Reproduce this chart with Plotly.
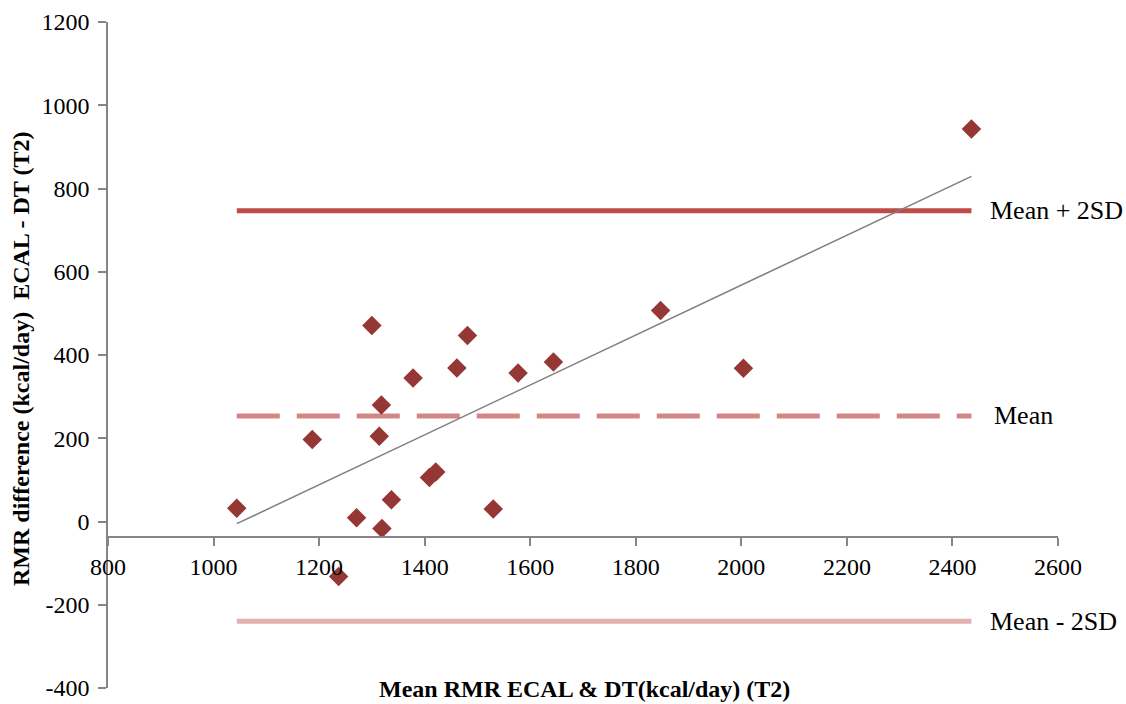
import numpy as np
import plotly.graph_objects as go

# Mean of the two methods (kcal/day) and their difference ECAL - DT (kcal/day), visit T2
mean_rmr = [1044, 1187, 1300, 1318, 1314, 1378, 1461, 1481, 1577, 1644,
            1271, 1319, 1337, 1409, 1421, 1530, 1237, 2436, 1847, 2004]
diff_rmr = [32, 197, 471, 280, 205, 345, 369, 447, 357, 383,
            9, -17, 52, 106, 119, 30, -132, 943, 507, 368]

x_ticks = [800, 1000, 1200, 1400, 1600, 1800, 2000, 2200, 2400, 2600]
y_ticks = [-400, -200, 0, 200, 400, 600, 800, 1000, 1200]
x_range = [800, 2600]
y_range = [-400, 1200]
x_axis_cross = -38  # value of y where the horizontal axis is drawn

label_upper = "Mean + 2SD"
label_mean = "Mean"
label_lower = "Mean - 2SD"
x_title = "Mean RMR ECAL & DT(kcal/day) (T2)"
y_title = "RMR difference (kcal/day)\u00a0\u00a0ECAL - DT (T2)"

# Bland-Altman statistics
x = np.array(mean_rmr, dtype=float)
d = np.array(diff_rmr, dtype=float)
bias = d.mean()
sd = d.std(ddof=1)
upper = bias + 2 * sd
lower = bias - 2 * sd
x_span = [x.min(), x.max()]
slope, intercept = np.polyfit(x, d, 1)
trend_y = [slope * v + intercept for v in x_span]

SERIF = "Liberation Serif"
AXIS_GREY = "#868686"

fig = go.Figure()

fig.add_trace(go.Scatter(x=x_span, y=[upper, upper], mode="lines",
                         line=dict(color="#BE4B48", width=5), hoverinfo="skip"))
fig.add_trace(go.Scatter(x=x_span, y=[bias, bias], mode="lines",
                         line=dict(color="#D38784", width=5, dash="43px,17px"),
                         hoverinfo="skip"))
fig.add_trace(go.Scatter(x=x_span, y=[lower, lower], mode="lines",
                         line=dict(color="#E2B2B1", width=5), hoverinfo="skip"))
fig.add_trace(go.Scatter(x=x_span, y=trend_y, mode="lines",
                         line=dict(color="#7F7F7F", width=1.5), hoverinfo="skip"))
fig.add_trace(go.Scatter(x=mean_rmr, y=diff_rmr, mode="markers",
                         marker=dict(symbol="diamond", size=15, color="#953735",
                                     line=dict(width=0))))

x_pos = (x_axis_cross - y_range[0]) / (y_range[1] - y_range[0])

fig.update_layout(
    template="none",
    width=1126, height=704,
    margin=dict(l=108, r=68, t=22, b=16, pad=0),
    paper_bgcolor="white", plot_bgcolor="white",
    showlegend=False,
    font=dict(family=SERIF, size=24, color="black"),
    xaxis=dict(range=x_range, tickvals=x_ticks, ticktext=[str(v) for v in x_ticks],
               automargin=False,
               showgrid=False, zeroline=False, showline=True,
               linecolor=AXIS_GREY, linewidth=1.5,
               ticks="outside", ticklen=8, tickwidth=1.5, tickcolor=AXIS_GREY,
               anchor="free", position=x_pos,
               tickfont=dict(family=SERIF, size=24, color="black")),
    yaxis=dict(range=y_range, tickvals=y_ticks, ticktext=[str(v) for v in y_ticks],
               automargin=False,
               showgrid=False, zeroline=False, showline=True,
               linecolor=AXIS_GREY, linewidth=1.5,
               ticks="outside", ticklen=8, tickwidth=1.5, tickcolor=AXIS_GREY,
               ticklabelstandoff=4,
               tickfont=dict(family=SERIF, size=24, color="black")),
)

line_labels = [(label_upper, upper, 17), (label_mean, bias, 21), (label_lower, lower, 17)]
for text, yv, shift in line_labels:
    fig.add_annotation(x=x_span[1], y=yv, xref="x", yref="y", text=text,
                       showarrow=False, xanchor="left", yanchor="middle", xshift=shift,
                       font=dict(family=SERIF, size=26, color="black"))

fig.add_annotation(x=0.502, y=-0.0015, xref="paper", yref="paper",
                   text="<b>" + x_title + "</b>", showarrow=False,
                   xanchor="center", yanchor="middle",
                   font=dict(family=SERIF, size=24, color="black"))
fig.add_annotation(x=-0.0916, y=0.494, xref="paper", yref="paper",
                   text="<b>" + y_title + "</b>", showarrow=False, textangle=-90,
                   xanchor="center", yanchor="middle",
                   font=dict(family=SERIF, size=24, color="black"))

fig.write_html("out.html")
